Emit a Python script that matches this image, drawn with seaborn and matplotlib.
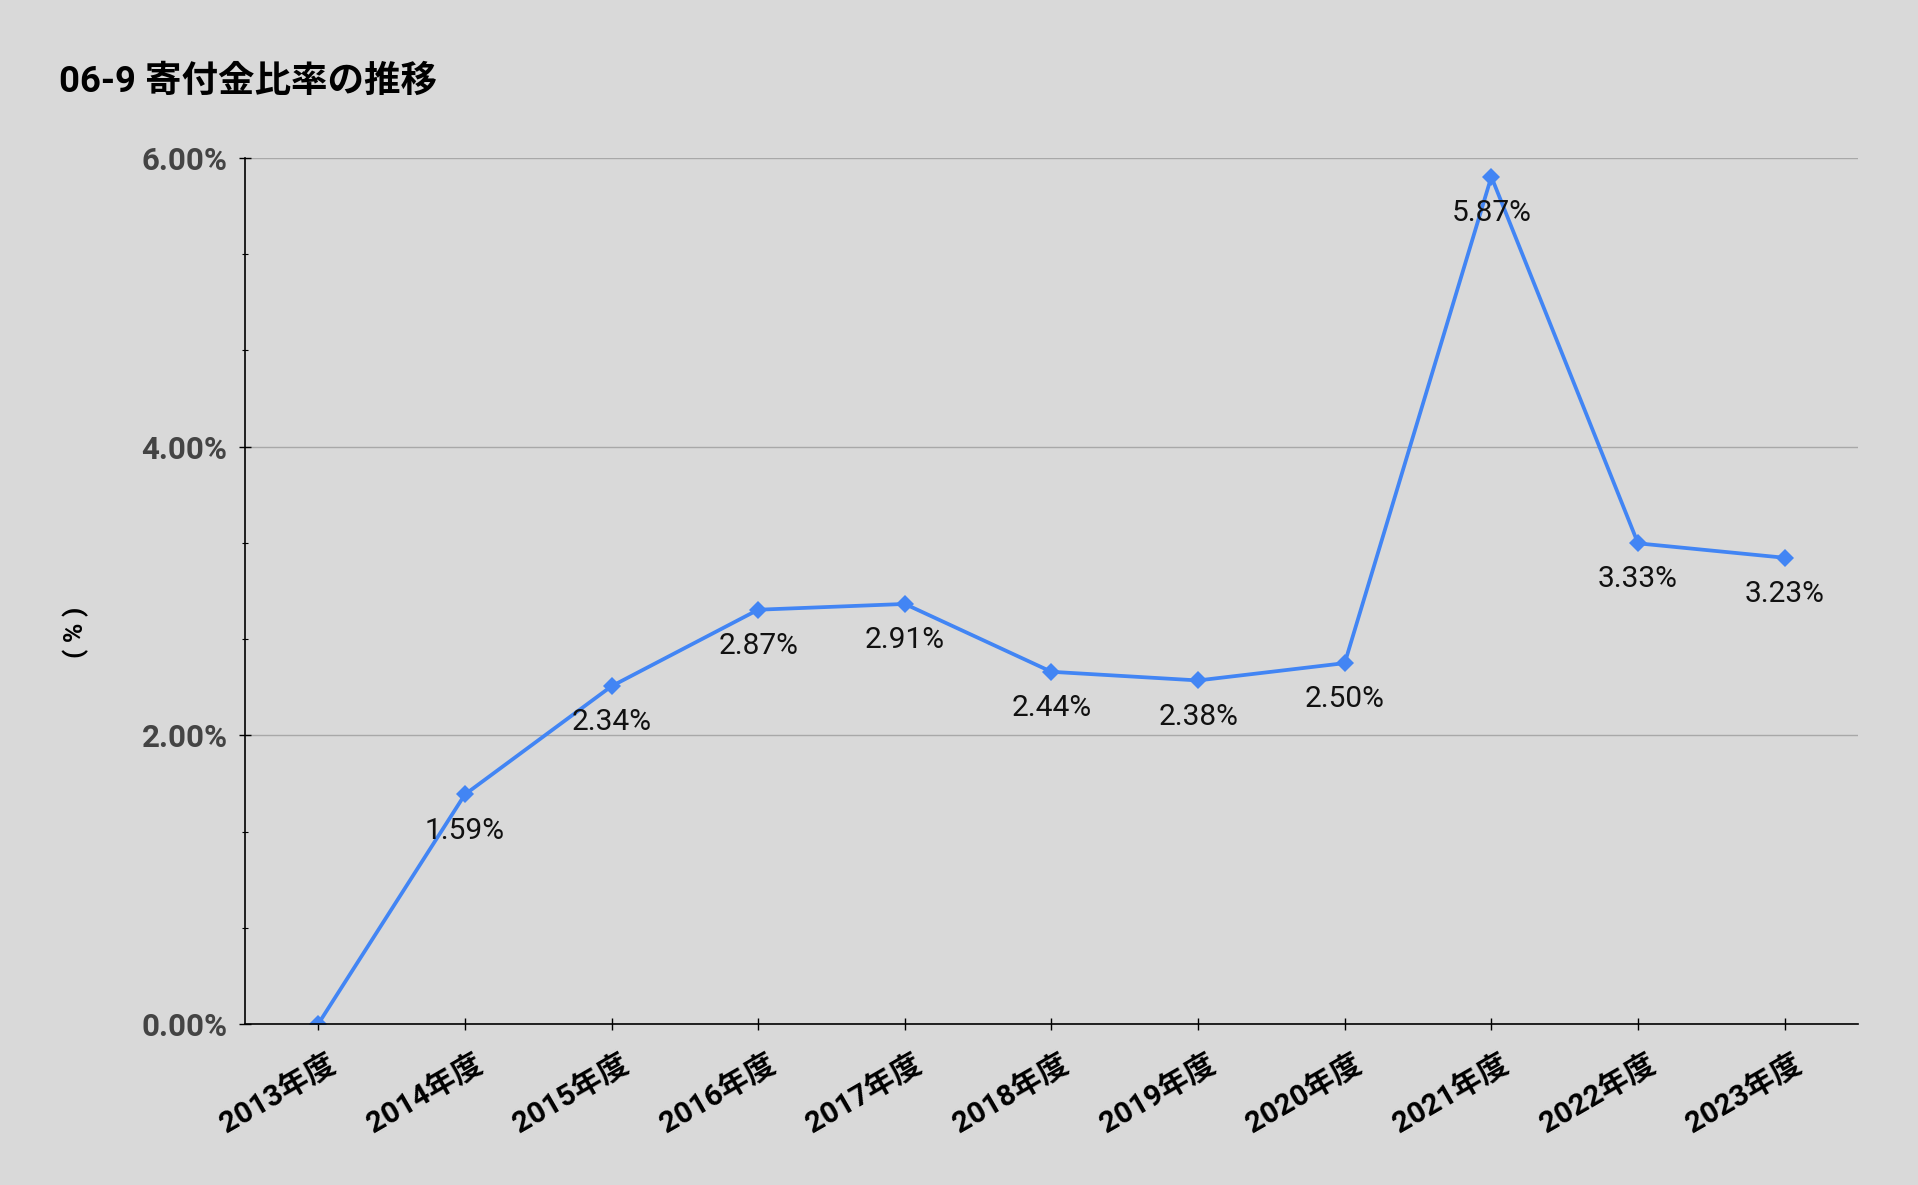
import numpy as np
import pandas as pd
import seaborn as sns
import matplotlib.pyplot as plt
from matplotlib.ticker import MultipleLocator, FuncFormatter
from matplotlib.transforms import ScaledTranslation

# data
years = ['2013年度', '2014年度', '2015年度', '2016年度', '2017年度', '2018年度',
         '2019年度', '2020年度', '2021年度', '2022年度', '2023年度']
ratio = [0.00, 1.59, 2.34, 2.87, 2.91, 2.44, 2.38, 2.50, 5.87, 3.33, 3.23]

df = pd.DataFrame({'year': years, 'ratio': ratio})

sns.set_theme(style='white')
plt.rcParams['font.family'] = ['Roboto', 'Noto Sans CJK JP', 'DejaVu Sans']

bg = '#d9d9d9'
blue = '#4285f4'

fig = plt.figure(figsize=(19.18, 11.85), dpi=100, facecolor=bg)
ax = fig.add_axes([0.1277, 0.1359, 0.9687 - 0.1277, 0.8667 - 0.1359])
ax.set_facecolor(bg)

sns.lineplot(data=df, x='year', y='ratio', ax=ax, color=blue, linewidth=2.7,
             marker='D', markersize=9.5, markeredgewidth=0, sort=False)

for i, v in enumerate(ratio):
    if v == 0:
        continue
    ax.annotate(f'{v:.2f}%', (i, v), xytext=(0, -26), textcoords='offset points',
                ha='center', va='center', fontsize=21.5, color='#111111')

ax.set_xlim(-0.5, len(years) - 0.5)
ax.set_ylim(0, 6)
ax.yaxis.set_major_locator(MultipleLocator(2))
ax.yaxis.set_minor_locator(MultipleLocator(2 / 3))
ax.yaxis.set_major_formatter(FuncFormatter(lambda v, p: f'{v:.2f}%'))
ax.grid(axis='y', which='major', color='#a8a8a8', linewidth=1)
ax.set_axisbelow(True)

for s in ['top', 'right']:
    ax.spines[s].set_visible(False)
for s in ['left', 'bottom']:
    ax.spines[s].set_color('black')
    ax.spines[s].set_linewidth(1.2)

ax.tick_params(axis='y', which='major', direction='inout', length=9, width=1,
               color='black', labelsize=22.5, labelcolor='#444444', pad=8, left=True)
ax.tick_params(axis='y', which='minor', direction='inout', length=4.5, width=0.8,
               color='black', left=True)
ax.tick_params(axis='x', which='major', direction='inout', length=9, width=1,
               color='black', labelsize=21.5, labelcolor='black', pad=23, bottom=True)
for lab in ax.get_yticklabels():
    lab.set_fontweight('bold')
shift = ScaledTranslation(0.15, 0, fig.dpi_scale_trans)
for lab in ax.get_xticklabels():
    lab.set_fontweight('bold')
    lab.set_rotation(30)
    lab.set_ha('right')
    lab.set_va('center')
    lab.set_rotation_mode('anchor')
    lab.set_transform(lab.get_transform() + shift)

ax.set_xlabel('')
ax.set_ylabel('')
fig.text(0.0396, 0.4667, '( % )', rotation=90, ha='center', va='center',
         fontsize=19, fontweight='bold', color='black')
fig.text(0.0308, 0.931, '06-9 寄付金比率の推移', ha='left', va='center',
         fontsize=26.3, fontweight='bold', color='black')

fig.savefig('out.png', dpi=100, facecolor=bg)
